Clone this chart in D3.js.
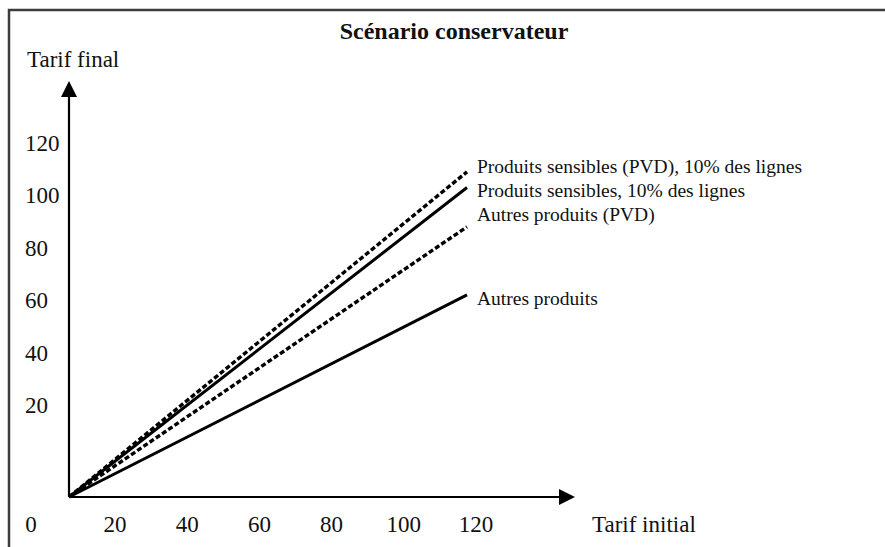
<!DOCTYPE html>
<html>
<head>
<meta charset="utf-8">
<script src="https://cdn.jsdelivr.net/npm/d3@7"></script>
<style>
  body { margin: 0; background: #fff; }
  svg text { font-family: "Liberation Serif", "Times New Roman", serif; fill: #111; }
</style>
</head>
<body>
<div id="chart"></div>
<script>
// Scénario conservateur - schematic tariff cuts

var seriesNames = ["Produits sensibles (PVD), 10% des lignes",
                   "Produits sensibles, 10% des lignes",
                   "Autres produits (PVD)",
                   "Autres produits"];
var seriesDashed = [true, false, true, false];
var tarifInitial = [0, 120];
var tarifFinal = [
  [0, 109],
  [0, 103],
  [0, 88],
  [0, 62]
];
var xTicks = [0, 20, 40, 60, 80, 100, 120];
var yTicks = [20, 40, 60, 80, 100, 120];

var width = 885, height = 547;

var svg = d3.select("#chart").append("svg")
    .attr("width", width)
    .attr("height", height);

// frame (runs off the right and bottom edges)
svg.append("rect")
    .attr("x", 9)
    .attr("y", 10)
    .attr("width", 900)
    .attr("height", 560)
    .attr("fill", "none")
    .attr("stroke", "#3c3c3c")
    .attr("stroke-width", 2.5);

// the drawing is schematic: the tick labels do not sit on the data grid
var x = d3.scaleLinear().domain([0, 120]).range([69, 467]);
var xLabel = d3.scaleLinear().domain([0, 20, 120]).range([31, 115, 476]);
var y = d3.scaleLinear().domain([0, 20, 120]).range([497, 405, 143]);

var ox = x(0), oy = y(0);

// arrow heads
var defs = svg.append("defs");
defs.append("marker")
    .attr("id", "arrow")
    .attr("viewBox", "0 0 10 10")
    .attr("refX", 0)
    .attr("refY", 5)
    .attr("markerUnits", "userSpaceOnUse")
    .attr("markerWidth", 17)
    .attr("markerHeight", 16)
    .attr("orient", "auto")
  .append("path")
    .attr("d", "M0,0L10,5L0,10Z")
    .attr("fill", "#000");

// axes
svg.append("line")
    .attr("x1", ox).attr("y1", oy)
    .attr("x2", 559).attr("y2", oy)
    .attr("stroke", "#000")
    .attr("stroke-width", 2.2)
    .attr("marker-end", "url(#arrow)");

svg.append("line")
    .attr("x1", ox).attr("y1", oy)
    .attr("x2", ox).attr("y2", 97)
    .attr("stroke", "#000")
    .attr("stroke-width", 2.2)
    .attr("marker-end", "url(#arrow)");

// tick labels
svg.selectAll(".xtick")
    .data(xTicks)
  .enter().append("text")
    .attr("class", "xtick")
    .attr("x", function(d) { return xLabel(d); })
    .attr("y", 532)
    .attr("text-anchor", "middle")
    .style("font-size", "23px")
    .text(function(d) { return d; });

svg.selectAll(".ytick")
    .data(yTicks)
  .enter().append("text")
    .attr("class", "ytick")
    .attr("x", 25)
    .attr("y", function(d) { return y(d); })
    .attr("dy", "0.35em")
    .style("font-size", "23px")
    .text(function(d) { return d; });

// axis titles
svg.append("text")
    .attr("x", 27)
    .attr("y", 67)
    .style("font-size", "23px")
    .text("Tarif final");

svg.append("text")
    .attr("x", 592)
    .attr("y", 532)
    .style("font-size", "23px")
    .text("Tarif initial");

svg.append("text")
    .attr("x", 454)
    .attr("y", 39)
    .attr("text-anchor", "middle")
    .style("font-size", "24px")
    .style("font-weight", "bold")
    .text("Scénario conservateur");

// series lines
var line = d3.line()
    .x(function(d) { return x(d[0]); })
    .y(function(d) { return y(d[1]); });

var series = seriesNames.map(function(name, i) {
  return {
    name: name,
    dashed: seriesDashed[i],
    points: tarifInitial.map(function(t, j) { return [t, tarifFinal[i][j]]; })
  };
});

svg.selectAll(".serie")
    .data(series)
  .enter().append("path")
    .attr("class", "serie")
    .attr("d", function(d) { return line(d.points); })
    .attr("fill", "none")
    .attr("stroke", "#000")
    .attr("stroke-width", function(d) { return d.dashed ? 3.4 : 3; })
    .attr("stroke-dasharray", function(d) { return d.dashed ? "5,2.5" : null; });

// end labels, nudged apart so the top three do not collide
var labelDy = [1, 9, -6, 10];
svg.selectAll(".label")
    .data(series)
  .enter().append("text")
    .attr("class", "label")
    .attr("x", x(120) + 10)
    .attr("y", function(d) { return y(d.points[1][1]); })
    .attr("dy", function(d, i) { return labelDy[i]; })
    .style("font-size", "19.5px")
    .text(function(d) { return d.name; });
</script>
</body>
</html>
